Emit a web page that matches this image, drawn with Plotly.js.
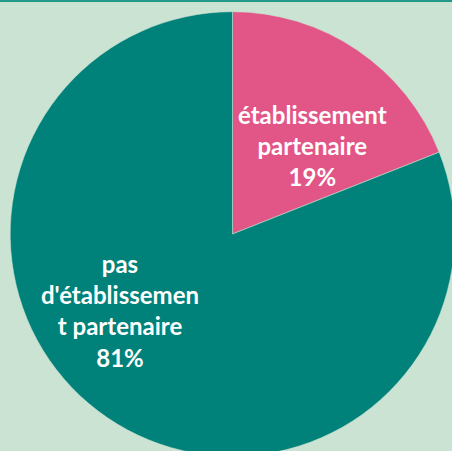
<!DOCTYPE html>
<html>
<head>
<meta charset="utf-8">
<script src="https://cdn.plot.ly/plotly-3.0.1.min.js"></script>
<style>
  html, body { margin: 0; padding: 0; overflow: hidden; background: #cae3d2; }
  #chart { position: absolute; left: 0; top: 0; }
  #topline { position: absolute; left: 0; top: 0; width: 100%; height: 2px; background: #23998b; z-index: 5; }
</style>
</head>
<body>
<div id="chart"></div>
<div id="topline"></div>
<script>
// Data
const categories = ["établissement partenaire", "pas d'établissement partenaire"];
const values = [19, 81];
// Wrapped label lines as shown in the reference
const labelLines = [
  ["établissement", "partenaire"],
  ["pas", "d'établissemen", "t partenaire"]
];
const colors = ["#e25687", "#00827a"];

const W = 465, H = 468;
const total = values.reduce((a, b) => a + b, 0);
const pct = values.map(v => Math.round(v / total * 100) + "%");

const labelPos = [
  { x: 312 / W, y: 1 - 145 / H },
  { x: 120 / W, y: 1 - 310 / H }
];

const annotations = categories.map((c, i) => ({
  xref: "paper", yref: "paper",
  x: labelPos[i].x, y: labelPos[i].y,
  xanchor: "center", yanchor: "middle",
  showarrow: false,
  align: "center",
  text: labelLines[i].concat([pct[i]]).join("<br>"),
  font: { family: "Lato, 'Open Sans', sans-serif", size: 24, color: "#ffffff", weight: "bold" }
}));

const trace = {
  type: "pie",
  labels: categories,
  values: values,
  sort: false,
  direction: "clockwise",
  rotation: 0,
  marker: { colors: colors, line: { color: "rgba(202,227,210,0.55)", width: 1 } },
  textinfo: "none",
  hoverinfo: "none",
  showlegend: false,
  domain: { x: [10.2 / W, 454.8 / W], y: [(H - 456.3) / H, (H - 11.7) / H] }
};

const layout = {
  width: W, height: H,
  margin: { l: 0, r: 0, t: 0, b: 0 },
  paper_bgcolor: "#cae3d2",
  plot_bgcolor: "#cae3d2",
  showlegend: false,
  annotations: annotations
};

Plotly.newPlot("chart", [trace], layout, { staticPlot: true, displayModeBar: false });
</script>
</body>
</html>
